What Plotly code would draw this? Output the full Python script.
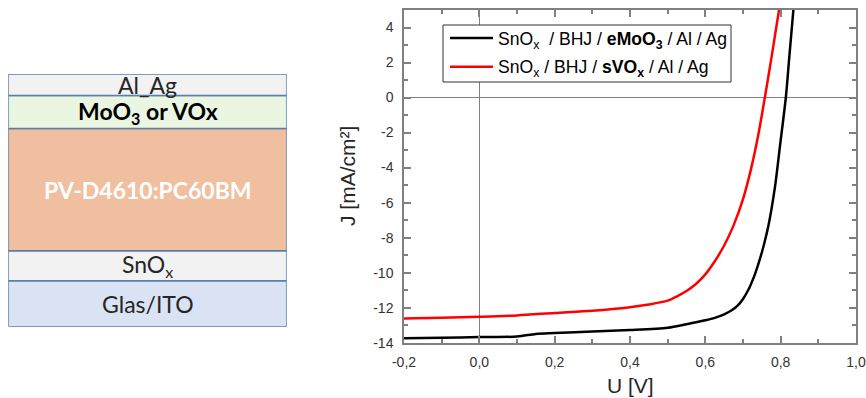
import plotly.graph_objects as go

# ---------------- J-V data ----------------
v_emoo3 = [-0.2, -0.1, 0.0, 0.1, 0.15, 0.2, 0.3, 0.4, 0.5, 0.55, 0.6, 0.625, 0.65, 0.67,
           0.685, 0.7, 0.715, 0.728, 0.74, 0.75, 0.767, 0.785, 0.798, 0.814, 0.823, 0.834]
j_emoo3 = [-13.75, -13.72, -13.68, -13.65, -13.5, -13.45, -13.36, -13.28, -13.15, -12.95,
           -12.72, -12.58, -12.38, -12.15, -11.9, -11.5, -10.95, -10.3, -9.55, -8.85,
           -7.37, -5.09, -2.8, 0.06, 2.34, 5.05]

v_svox = [-0.2, -0.1, 0.0, 0.1, 0.2, 0.3, 0.4, 0.45, 0.5, 0.525, 0.55, 0.575, 0.6, 0.625,
          0.65, 0.675, 0.7, 0.72, 0.74, 0.758, 0.776, 0.796]
j_svox = [-12.62, -12.58, -12.52, -12.44, -12.3, -12.17, -11.97, -11.82, -11.6, -11.35,
          -11.05, -10.65, -10.1, -9.35, -8.45, -7.3, -5.8, -4.2, -2.2, 0.0, 2.34, 5.05]

x_tickvals = [-0.2, 0.0, 0.2, 0.4, 0.6, 0.8, 1.0]
x_ticktext = ["-0,2", "0,0", "0,2", "0,4", "0,6", "0,8", "1,0"]
y_tickvals = [-14, -12, -10, -8, -6, -4, -2, 0, 2, 4]
y_ticktext = ["-14", "-12", "-10", "-8", "-6", "-4", "-2", "0", "2", "4"]

legend_labels = ["SnO<sub>x</sub>  / BHJ / <b>eMoO<sub>3</sub></b> / Al / Ag",
                 "SnO<sub>x</sub> / BHJ / <b>sVO<sub>x</sub></b> / Al / Ag"]
series_colors = ["#000000", "#ff0000"]

# ---------------- layer stack (bottom -> top) ----------------
layer_names = ["Glas/ITO", "SnO<sub>x</sub>", "<b>PV-D4610:PC60BM</b>",
               "<b>MoO<sub>3</sub> or VOx</b>", "Al_Ag"]
layer_thickness = [46, 30, 122.2, 33, 21.5]
layer_colors = ["#dae3f3", "#f2f2f2", "#efbfa0", "#eaf6e1", "#f2f2f2"]
layer_text_colors = ["#262626", "#262626", "#ffffff", "#000000", "#262626"]
layer_font_sizes = [23, 23, 23, 23, 23]

fig = go.Figure()

# stacked layers drawn as bars on their own axes
bottoms = []
acc = 0
for t in layer_thickness:
    bottoms.append(acc)
    acc += t
for name, t, b, c in zip(layer_names, layer_thickness, bottoms, layer_colors):
    fig.add_trace(go.Bar(x=[0.5], y=[t], base=[b], width=[1.0], marker_color=c,
                         marker_line=dict(color="#5a7fa8", width=1.5),
                         xaxis="x2", yaxis="y2", showlegend=False, hoverinfo="skip"))
for name, t, b, tc, fs in zip(layer_names, layer_thickness, bottoms, layer_text_colors,
                              layer_font_sizes):
    fig.add_annotation(x=0.5, y=b + t / 2, xref="x2", yref="y2", text=name,
                       showarrow=False, font=dict(family="Lato", size=fs, color=tc),
                       xanchor="center", yanchor="middle")

# J-V curves
fig.add_trace(go.Scatter(x=v_emoo3, y=j_emoo3, mode="lines",
                         line=dict(color=series_colors[0], width=2.5, shape="spline",
                                   smoothing=0.8),
                         showlegend=False))
fig.add_trace(go.Scatter(x=v_svox, y=j_svox, mode="lines",
                         line=dict(color=series_colors[1], width=2.5, shape="spline",
                                   smoothing=0.8),
                         showlegend=False))

W, H = 866, 398
def px(x):
    return x / W
def py(y):
    return 1 - y / H

axis_common = dict(showline=True, linecolor="#808080", linewidth=1.5, mirror="allticks",
                   ticks="inside", ticklen=7, tickwidth=1.5, tickcolor="#808080",
                   showgrid=False, zeroline=True, zerolinecolor="#808080", zerolinewidth=1,
                   tickmode="array", automargin=False,
                   tickfont=dict(family="Liberation Sans", size=14, color="#333333"))

fig.update_layout(
    width=W, height=H, margin=dict(l=0, r=0, t=0, b=0, autoexpand=False),
    paper_bgcolor="white", plot_bgcolor="white", barmode="overlay",
    xaxis=dict(domain=[px(404), px(856)], range=[-0.2, 1.0],
               tickvals=x_tickvals, ticktext=x_ticktext,
               minor=dict(ticks="inside", ticklen=4, tickwidth=1.5, tickcolor="#808080",
                          dtick=0.1, tick0=-0.2, showgrid=False),
               ticklabelstandoff=6, **axis_common),
    yaxis=dict(domain=[py(342.7), py(10)], range=[-14, 5],
               tickvals=y_tickvals, ticktext=y_ticktext,
               minor=dict(ticks="inside", ticklen=4, tickwidth=1.5, tickcolor="#808080",
                          dtick=1, tick0=0, showgrid=False),
               ticklabelstandoff=6, **axis_common),
    xaxis2=dict(domain=[px(8.3), px(286.7)], range=[0, 1], visible=False, fixedrange=True,
                automargin=False),
    yaxis2=dict(domain=[py(326.7), py(74)], range=[0, sum(layer_thickness)], visible=False,
                anchor="x2", fixedrange=True, automargin=False),
    showlegend=False,
)

# axis titles
fig.add_annotation(x=px(630), y=py(385), xref="paper", yref="paper", text="U [V]",
                   showarrow=False, font=dict(family="Liberation Sans", size=21, color="#262626"),
                   xanchor="center", yanchor="middle")
fig.add_annotation(x=px(347), y=py(176), xref="paper", yref="paper", text="J [mA/cm²]",
                   textangle=-90, showarrow=False,
                   font=dict(family="Liberation Sans", size=21, color="#262626"),
                   xanchor="center", yanchor="middle")

# manual legend box
fig.add_shape(type="rect", xref="paper", yref="paper", x0=px(443), x1=px(731),
              y0=py(82), y1=py(25), line=dict(color="#333333", width=1), fillcolor="white",
              layer="above")
legend_y = [38, 66.7]
for lbl, col, yy in zip(legend_labels, series_colors, legend_y):
    fig.add_shape(type="line", xref="paper", yref="paper", x0=px(450), x1=px(493),
                  y0=py(yy), y1=py(yy), line=dict(color=col, width=2.5), layer="above")
    fig.add_annotation(x=px(496), y=py(yy + 2), xref="paper", yref="paper", text=lbl,
                       showarrow=False, xanchor="left", yanchor="middle",
                       font=dict(family="Liberation Sans", size=17.6, color="#000000"))

fig.write_html("out.html")
